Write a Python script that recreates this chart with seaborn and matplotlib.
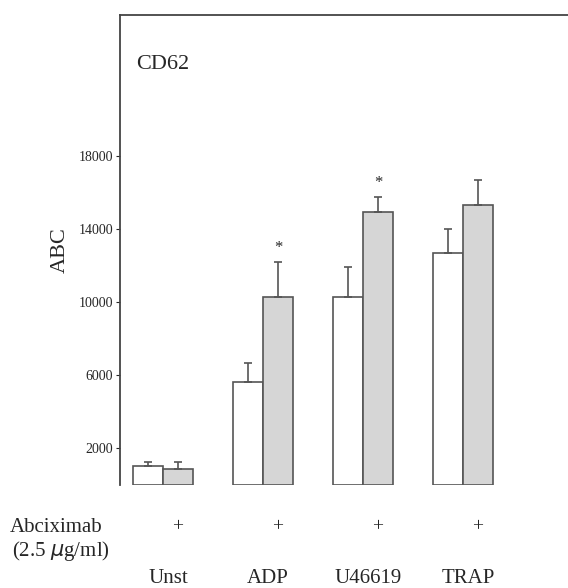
import numpy as np
import pandas as pd
import matplotlib
matplotlib.use("Agg")
import matplotlib.pyplot as plt
import matplotlib.transforms as mtransforms
import seaborn as sns

# values
agonists = ["Unst", "ADP", "U46619", "TRAP"]
treatment = ["-", "+"]
abc_minus = [1040, 5630, 10270, 12680]
abc_plus = [870, 10270, 14920, 15300]
err_minus = [220, 1040, 1630, 1310]
err_plus = [390, 1920, 820, 1370]
signif = [False, True, True, False]
yticks = [2000, 6000, 10000, 14000, 18000]

sns.set_style("white")
plt.rcParams['font.family'] = ['Liberation Serif', 'DejaVu Serif']

df = pd.DataFrame({
    "agonist": agonists * 2,
    "abciximab": ["-"] * 4 + ["+"] * 4,
    "ABC": abc_minus + abc_plus,
})

fig = plt.figure(figsize=(5.68, 5.88), dpi=100)
ax = fig.add_axes([120 / 568, 1 - 485 / 588, 1 - 120 / 568, 470 / 588])

sns.barplot(data=df, x="agonist", y="ABC", hue="abciximab", hue_order=treatment,
            order=agonists, palette={"-": "white", "+": "#d6d6d6"},
            width=0.6, errorbar=None, edgecolor="#555555", linewidth=1.2,
            legend=False, ax=ax)

# one sided error bars on top of each bar, from the bar patches
errs = {"-": err_minus, "+": err_plus}
for cont, h in zip(ax.containers, treatment):
    for bar, e in zip(cont, errs[h]):
        xc = bar.get_x() + bar.get_width() / 2
        top = bar.get_height()
        ax.errorbar(xc, top, yerr=[[0], [e]], fmt="none", ecolor="#555555",
                    elinewidth=1.2, capsize=3, capthick=1.2)

# significance stars over the abciximab bars
for bar, e, s in zip(ax.containers[1], err_plus, signif):
    if s:
        xc = bar.get_x() + bar.get_width() / 2
        ax.annotate("*", (xc, bar.get_height() + e), xytext=(0, 10),
                    textcoords="offset points", ha="center", va="center",
                    fontsize=12)

ax.set_xlim(-0.43, 4.05)
ax.set_ylim(0, 25700)
ax.set_yticks(yticks)
ax.set_yticklabels([str(t) for t in yticks], fontsize=10)
ax.tick_params(axis="y", direction="out", length=3, width=0.8, pad=2, left=True)
ax.set_xticks([])
ax.set_xlabel("")
ax.set_ylabel("ABC", fontsize=16, labelpad=6)
for sp in ["bottom", "right"]:
    ax.spines[sp].set_visible(False)
for sp in ["left", "top"]:
    ax.spines[sp].set_color("#444444")
    ax.spines[sp].set_linewidth(1.3)

ax.text(0.035, 0.895, "CD62", transform=ax.transAxes, fontsize=16,
        ha="left", va="center")

# labels under the plot
trans = mtransforms.blended_transform_factory(ax.transData, ax.transAxes)
for bar in ax.containers[1]:
    xc = bar.get_x() + bar.get_width() / 2
    ax.text(xc, -0.089, "+", transform=trans, ha="center", va="center",
            fontsize=14)
for i, name in enumerate(agonists):
    ax.text(i + 0.05, -0.198, name, transform=trans, ha="center", va="center",
            fontsize=15)
fig.text(10 / 568, 1 - 527 / 588, "Abciximab", ha="left", va="center",
         fontsize=15)
fig.text(12 / 568, 1 - 551 / 588, "(2.5 $\\mu$g/ml)", ha="left", va="center",
         fontsize=15)

fig.savefig("out.png", dpi=100)
